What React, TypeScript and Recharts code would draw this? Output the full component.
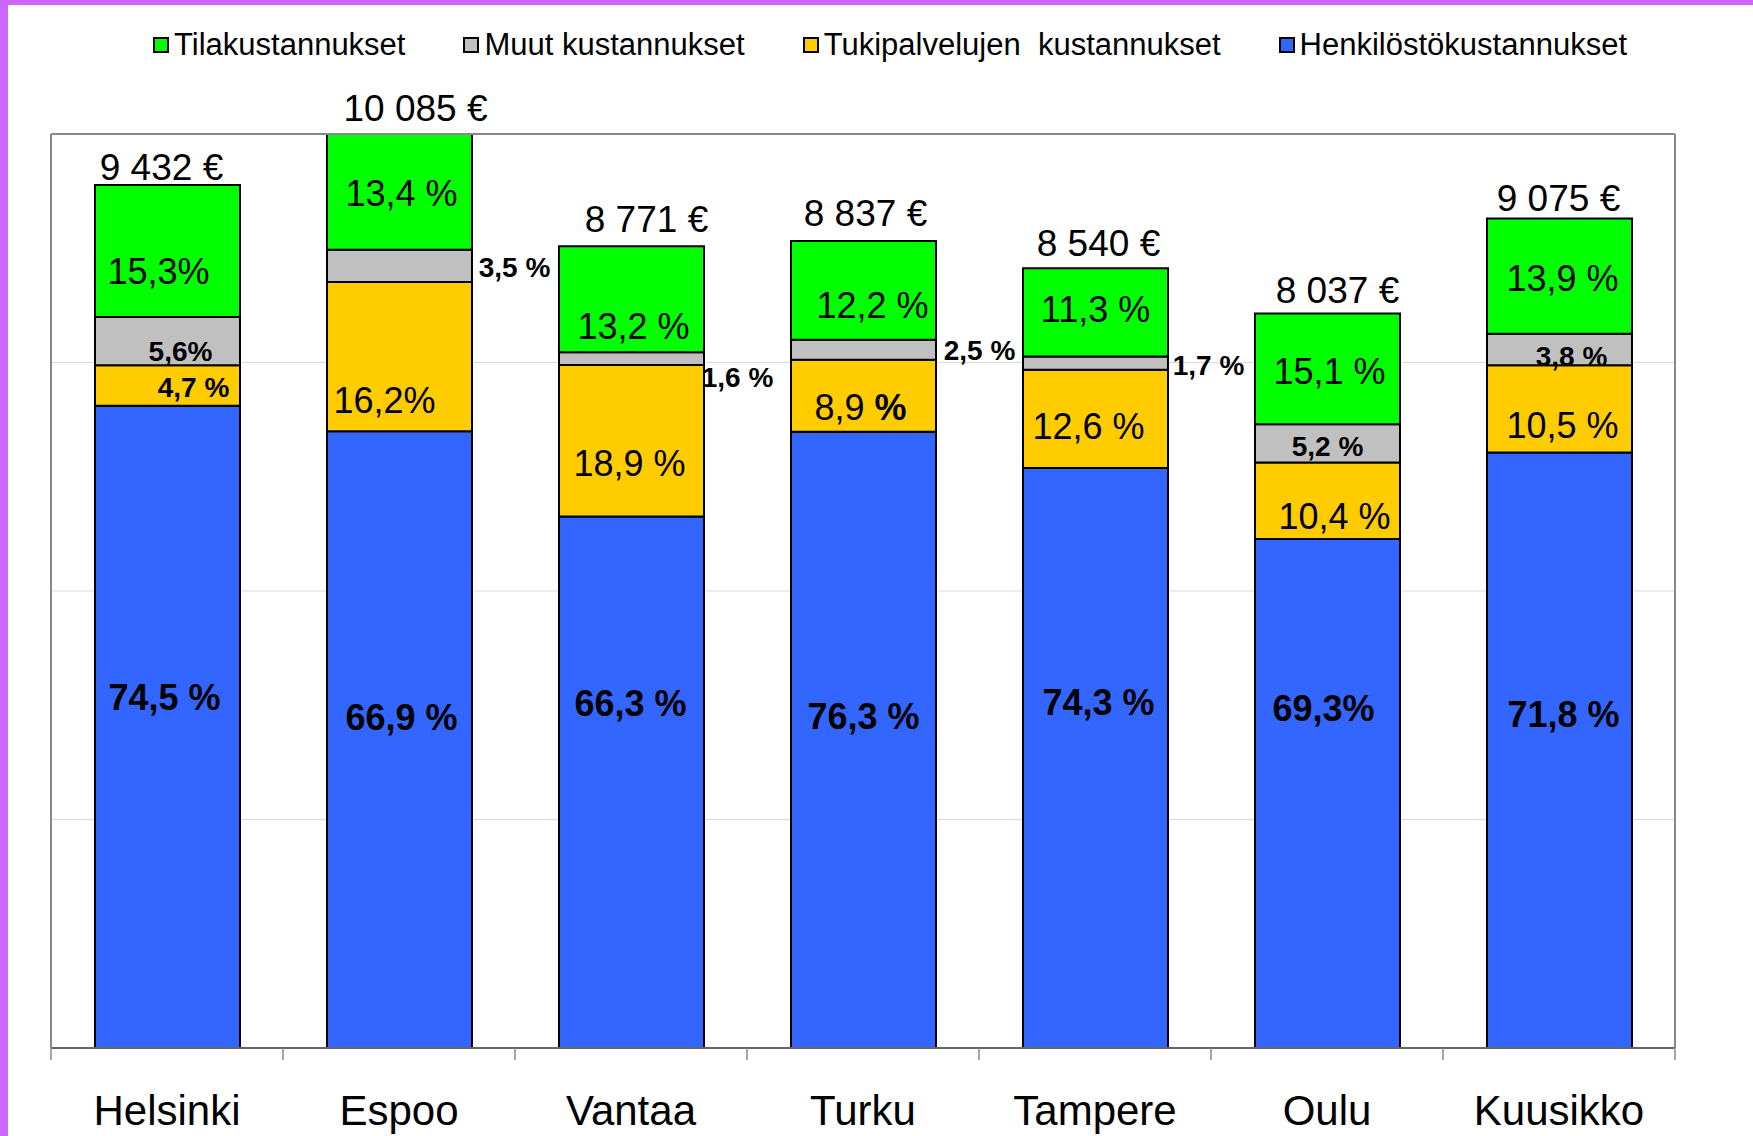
import React from 'react';
import { BarChart, Bar, XAxis, YAxis, CartesianGrid, Legend, LabelList, ReferenceLine } from 'recharts';

const cities = ['Helsinki', 'Espoo', 'Vantaa', 'Turku', 'Tampere', 'Oulu', 'Kuusikko'];
const totals = [9432, 10085, 8771, 8837, 8540, 8037, 9075];

// share of the total cost per city, %
const staffShare = [74.5, 66.9, 66.3, 76.3, 74.3, 69.3, 71.8];
const supportShare = [4.7, 16.2, 18.9, 8.9, 12.6, 10.4, 10.5];
const otherShare = [5.6, 3.5, 1.6, 2.5, 1.7, 5.2, 3.8];
const premisesShare = [15.3, 13.4, 13.2, 12.2, 11.3, 15.1, 13.9];

// labels as they are printed on the bars
const staffLabels = ['74,5 %', '66,9 %', '66,3 %', '76,3 %', '74,3 %', '69,3%', '71,8 %'];
const supportLabels = ['4,7 %', '16,2%', '18,9 %', '8,9 %', '12,6 %', '10,4 %', '10,5 %'];
const otherLabels = ['5,6%', '3,5 %', '1,6 %', '2,5 %', '1,7 %', '5,2 %', '3,8 %'];
const premisesLabels = ['15,3%', '13,4 %', '13,2 %', '12,2 %', '11,3 %', '15,1 %', '13,9 %'];

const yTicks = [0, 2500, 5000, 7500, 10000];
const Y_MAX = yTicks[yTicks.length - 1];

// hand-placed label offsets (px) from the segment centre, like the original
const premisesNudge = { dx: [-9, 2, 2, 9, 0, 2, 3], dy: [20, 2, 27, 15, -3, 3, 2] };
const supportNudge = { dx: [26, -15, -2, -3, -7, 7, 3], dy: [2, 44, 23, 11, 8, 16, 17] };
const otherNudge = { dx: [13, 115, 106, 116, 113, 0, 12], dy: [10, 2, 19, 1, 2, 3, 7] };
const staffNudge = { dx: [-3, 2, -1, 0, 3, -4, 4], dy: [-29, -22, -79, -23, -56, -85, -36] };
const totalNudge = { dx: [-6, 16, 15, 2, 3, 10, -1], dy: [-18, -26, -27, -28, -25, -23, -20] };

const supportStyle = ['small', 'normal', 'normal', 'mixed', 'normal', 'normal', 'normal'];

const W = 1753;
const H = 1136;
const MARGIN = { top: 134, right: 77, bottom: 8, left: 50 };
const BAND = (W - MARGIN.left - MARGIN.right - 2) / cities.length;
const FONT = '"Liberation Sans", Arial, sans-serif';

const COLORS = {
  premises: '#00FF00',
  other: '#C0C0C0',
  support: '#FFCC00',
  staff: '#3366FF',
};

const legendItems = [
  { name: 'Tilakustannukset', color: COLORS.premises },
  { name: 'Muut kustannukset', color: COLORS.other },
  { name: 'Tukipalvelujen  kustannukset', color: COLORS.support },
  { name: 'Henkilöstökustannukset', color: COLORS.staff },
];

const data = cities.map((city, i) => ({
  city,
  staff: (totals[i] * staffShare[i]) / 100,
  support: (totals[i] * supportShare[i]) / 100,
  other: (totals[i] * otherShare[i]) / 100,
  premises: (totals[i] * premisesShare[i]) / 100,
  total: totals[i],
}));

const fmtEuro = (v: number) => `${Math.floor(v / 1000)} ${String(v % 1000).padStart(3, '0')} €`;

const box = (props: any) => {
  const vb = props.viewBox && props.viewBox.width !== undefined ? props.viewBox : props;
  const x = Number(vb.x);
  const y = Number(vb.y);
  const w = Number(vb.width);
  const h = Number(vb.height);
  const top = Math.min(y, y + h);
  return { cx: x + w / 2, top, cy: top + Math.abs(h) / 2 };
};

const segLabel =
  (texts: string[], nudge: { dx: number[]; dy: number[] }, size: number, weight: string, styles?: string[]) =>
  (props: any) => {
    const i = props.index;
    const { cx, cy } = box(props);
    const kind = styles ? styles[i] : 'normal';
    const fs = kind === 'small' ? 28 : size;
    const fw = kind === 'small' ? 'bold' : weight;
    const t = texts[i];
    return (
      <text
        x={cx + nudge.dx[i]}
        y={cy + nudge.dy[i]}
        textAnchor="middle"
        dominantBaseline="central"
        fontFamily={FONT}
        fontSize={fs}
        fontWeight={fw}
        fill="#000"
      >
        {kind === 'mixed' ? (
          <>
            <tspan>{t.slice(0, -1)}</tspan>
            <tspan fontWeight="bold">{t.slice(-1)}</tspan>
          </>
        ) : (
          t
        )}
      </text>
    );
  };

const totalLabel = (props: any) => {
  const i = props.index;
  const { cx, top } = box(props);
  return (
    <text
      x={cx + totalNudge.dx[i]}
      y={top + totalNudge.dy[i]}
      textAnchor="middle"
      dominantBaseline="central"
      fontFamily={FONT}
      fontSize={37}
      fill="#000"
    >
      {fmtEuro(totals[i])}
    </text>
  );
};

const CityTick = (props: any) => {
  const { x, y, payload, index } = props;
  return (
    <g>
      <line x1={x - BAND / 2} x2={x - BAND / 2} y1={y} y2={y + 12} stroke="#888" strokeWidth={1.5} />
      {index === cities.length - 1 && (
        <line x1={x + BAND / 2} x2={x + BAND / 2} y1={y} y2={y + 12} stroke="#888" strokeWidth={1.5} />
      )}
      <text x={x} y={y + 62} textAnchor="middle" dominantBaseline="central" fontFamily={FONT} fontSize={42} fill="#000">
        {payload.value}
      </text>
    </g>
  );
};

const NoTick = () => <g />;

// gridlines at the inner y ticks, behind the bars
const gridRows = (props: any) => {
  const { yAxis, offset } = props || {};
  const inner = yTicks.slice(1, -1);
  if (yAxis && typeof yAxis.scale === 'function') return inner.map((v) => yAxis.scale(v));
  if (offset && offset.height) return inner.map((v) => offset.top + offset.height * (1 - v / Y_MAX));
  return [];
};

const LegendRow = () => (
  <div style={{ display: 'flex', alignItems: 'center', fontFamily: FONT, fontSize: 31, color: '#000', height: 36 }}>
    {legendItems.map((it) => (
      <div key={it.name} style={{ display: 'flex', alignItems: 'center', marginRight: 58 }}>
        <span
          style={{
            display: 'inline-block',
            width: 16,
            height: 16,
            boxSizing: 'border-box',
            border: '2px solid #000',
            background: it.color,
            marginRight: 5,
          }}
        />
        <span style={{ whiteSpace: 'pre' }}>{it.name}</span>
      </div>
    ))}
  </div>
);

export default function App() {
  return (
    <div style={{ position: 'absolute', left: 0, top: 0, width: W, height: H, background: '#fff', overflow: 'hidden' }}>
      <BarChart width={W} height={H} data={data} margin={MARGIN} barSize={145}>
        <CartesianGrid vertical={false} stroke="#D9D9D9" horizontalCoordinatesGenerator={gridRows} />
        <XAxis
          dataKey="city"
          height={80}
          tickSize={0}
          tickMargin={0}
          tickLine={false}
          axisLine={{ stroke: '#666', strokeWidth: 2 }}
          tick={<CityTick />}
          interval={0}
        />
        <YAxis
          domain={[0, Y_MAX]}
          ticks={yTicks}
          allowDataOverflow
          tick={<NoTick />}
          tickLine={false}
          width={1}
          axisLine={{ stroke: '#888', strokeWidth: 2 }}
        />
        <YAxis
          yAxisId="right"
          orientation="right"
          domain={[0, Y_MAX]}
          tick={false}
          tickLine={false}
          width={1}
          axisLine={{ stroke: '#888', strokeWidth: 2 }}
        />
        <Legend
          verticalAlign="middle"
          layout="horizontal"
          align="center"
          wrapperStyle={{ top: 27, left: 153, width: 1580 }}
          content={() => <LegendRow />}
        />
        <Bar dataKey="staff" stackId="a" fill={COLORS.staff} stroke="#000" strokeWidth={2} isAnimationActive={false}>
          <LabelList dataKey="staff" content={segLabel(staffLabels, staffNudge, 36, 'bold')} />
        </Bar>
        <Bar dataKey="support" stackId="a" fill={COLORS.support} stroke="#000" strokeWidth={2} isAnimationActive={false}>
          <LabelList dataKey="support" content={segLabel(supportLabels, supportNudge, 36, 'normal', supportStyle)} />
        </Bar>
        <Bar dataKey="other" stackId="a" fill={COLORS.other} stroke="#000" strokeWidth={2} isAnimationActive={false}>
          <LabelList dataKey="other" content={segLabel(otherLabels, otherNudge, 28, 'bold')} />
        </Bar>
        <Bar dataKey="premises" stackId="a" fill={COLORS.premises} stroke="#000" strokeWidth={2} isAnimationActive={false}>
          <LabelList dataKey="premises" content={segLabel(premisesLabels, premisesNudge, 36, 'normal')} />
          <LabelList dataKey="total" content={totalLabel} />
        </Bar>
        <ReferenceLine y={Y_MAX} stroke="#888" strokeWidth={2} />
      </BarChart>
      <div style={{ position: 'absolute', left: 0, top: 0, width: W, height: 5, background: '#CC66FF' }} />
      <div style={{ position: 'absolute', left: 0, top: 0, width: 8, height: H, background: '#CC66FF' }} />
    </div>
  );
}
